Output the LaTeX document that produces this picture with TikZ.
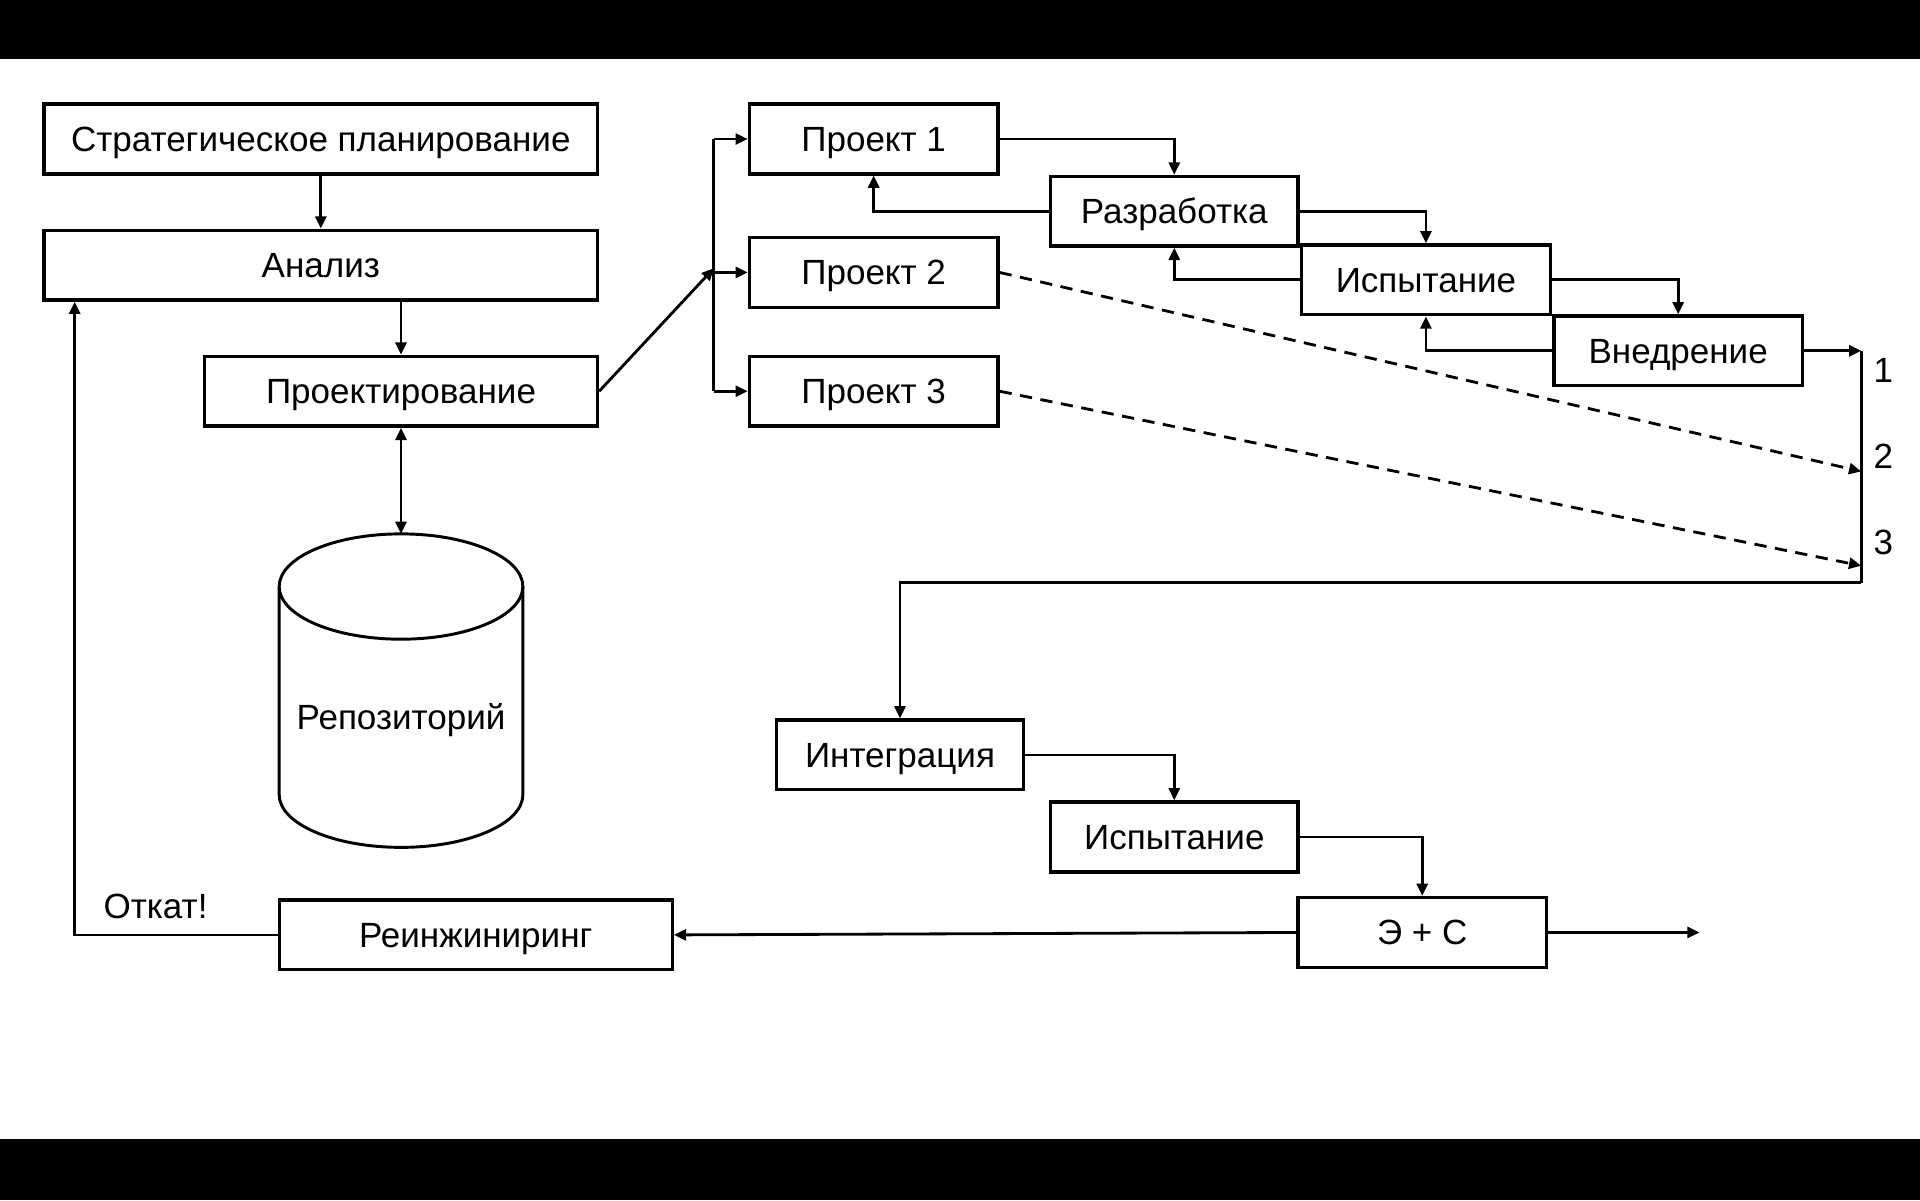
\documentclass[tikz,border=0pt]{standalone}
\usepackage{fontspec}
\setmainfont{Liberation Sans}
\usetikzlibrary{arrows.meta}
\begin{document}
\begin{tikzpicture}[x=0.5pt,y=-0.5pt,
  txt/.style={font=\fontsize{14.3}{16}\selectfont,text height=12pt,text depth=2pt},
  box/.style={draw,line width=1.35pt,inner sep=0pt,minimum height=28.5pt,txt},
  conn/.style={line width=1.15pt,-{Triangle[length=5pt,width=4.5pt]}},
  plain/.style={line width=1.15pt},
  dashy/.style={dash pattern=on 5pt off 3.5pt},
  lbl/.style={txt,inner sep=0pt}]
\fill (0,0) rectangle (1568,48);
\fill (0,930) rectangle (1568,980);
\useasboundingbox (0,0) rectangle (1568,980);

\node[box,minimum width=226pt] (strat) at (262,113.5) {Стратегическое планирование};
\node[box,minimum width=226pt] (analiz) at (262,216.5) {Анализ};
\node[box,minimum width=160.5pt] (proekt) at (327.5,319.5) {Проектирование};
\node[box,minimum width=101.5pt] (p1) at (713.5,113.5) {Проект 1};
\node[box,minimum width=101.5pt] (p2) at (713.5,222.5) {Проект 2};
\node[box,minimum width=101.5pt] (p3) at (713.5,319.5) {Проект 3};
\node[box,minimum width=101pt] (razr) at (959,172.5) {Разработка};
\node[box,minimum width=101.5pt] (ispa) at (1164.5,228.5) {Испытание};
\node[box,minimum width=101.5pt] (vned) at (1370.5,286.5) {Внедрение};
\node[box,minimum width=101pt] (integ) at (735,616.5) {Интеграция};
\node[box,minimum width=101pt] (ispb) at (959,683.5) {Испытание};
\node[box,minimum width=101.5pt] (es) at (1161.5,761.5) {Э + С};
\node[box,minimum width=160.5pt] (rein) at (388.5,763.5) {Реинжиниринг};

% cylinder
\draw[line width=1.2pt] (327.5,479) ellipse [x radius=49.75pt, y radius=21.5pt];
\draw[line width=1.2pt] (228,479) -- (228,649) arc[start angle=180,end angle=360,x radius=49.75pt,y radius=21.5pt] -- (427,479);
\node[lbl] (repo) at (327.5,586) {Репозиторий};
\coordinate (repotop) at (327.5,436);

\draw[conn] (strat.south) -- (analiz.north);
\draw[conn] (analiz.south -| proekt.north) -- (proekt.north);
\draw[plain,{Triangle[length=5pt,width=4.5pt]}-{Triangle[length=5pt,width=4.5pt]}] (proekt.south) -- (repotop);

\coordinate (hub) at (583,219);
\draw[conn] (proekt.east) -- (hub);
\draw[plain] (hub |- p1.west) -- (hub |- p3.west);
\draw[conn] (hub |- p1.west) -- (p1.west);
\draw[conn] (hub |- p2.west) -- (p2.west);
\draw[conn] (hub |- p3.west) -- (p3.west);

\draw[conn] (p1.east) -| (razr.north);
\draw[conn] (razr.west) -| (p1.south);
\draw[conn] (razr.east) -| (ispa.north);
\draw[conn] (ispa.west) -| (razr.south);
\draw[conn] (ispa.east) -| (vned.north);
\draw[conn] (vned.west) -| (ispa.south);

\coordinate (b1) at (1520,286.5);
\coordinate (b2) at (1520,385);
\coordinate (b3) at (1520,462);
\coordinate (bend) at (1520,476);
\draw[conn] (vned.east) -- (b1);
\draw[conn,dashy] (p2.east) -- (b2);
\draw[conn,dashy] (p3.east) -- (b3);
\draw[plain] (b1) -- (bend);
\draw[conn] (bend) -| (integ.north);
\node[lbl] (n1) at (1538,302) {1};
\node[lbl] (n2) at (1538,373) {2};
\node[lbl] (n3) at (1538,443) {3};

\draw[conn] (integ.east) -| (ispb.north);
\draw[conn] (ispb.east) -| (es.north);
\coordinate (out) at (1388,761.5);
\draw[conn] (es.east) -- (out);
\draw[conn] (es.west) -- (rein.east);
\coordinate (kink) at (61,763.5);
\draw[conn] (rein.west) -- (kink) -- (kink |- analiz.south);
\node[lbl] (otkat) at (127,740) {Откат!};
\end{tikzpicture}
\end{document}
